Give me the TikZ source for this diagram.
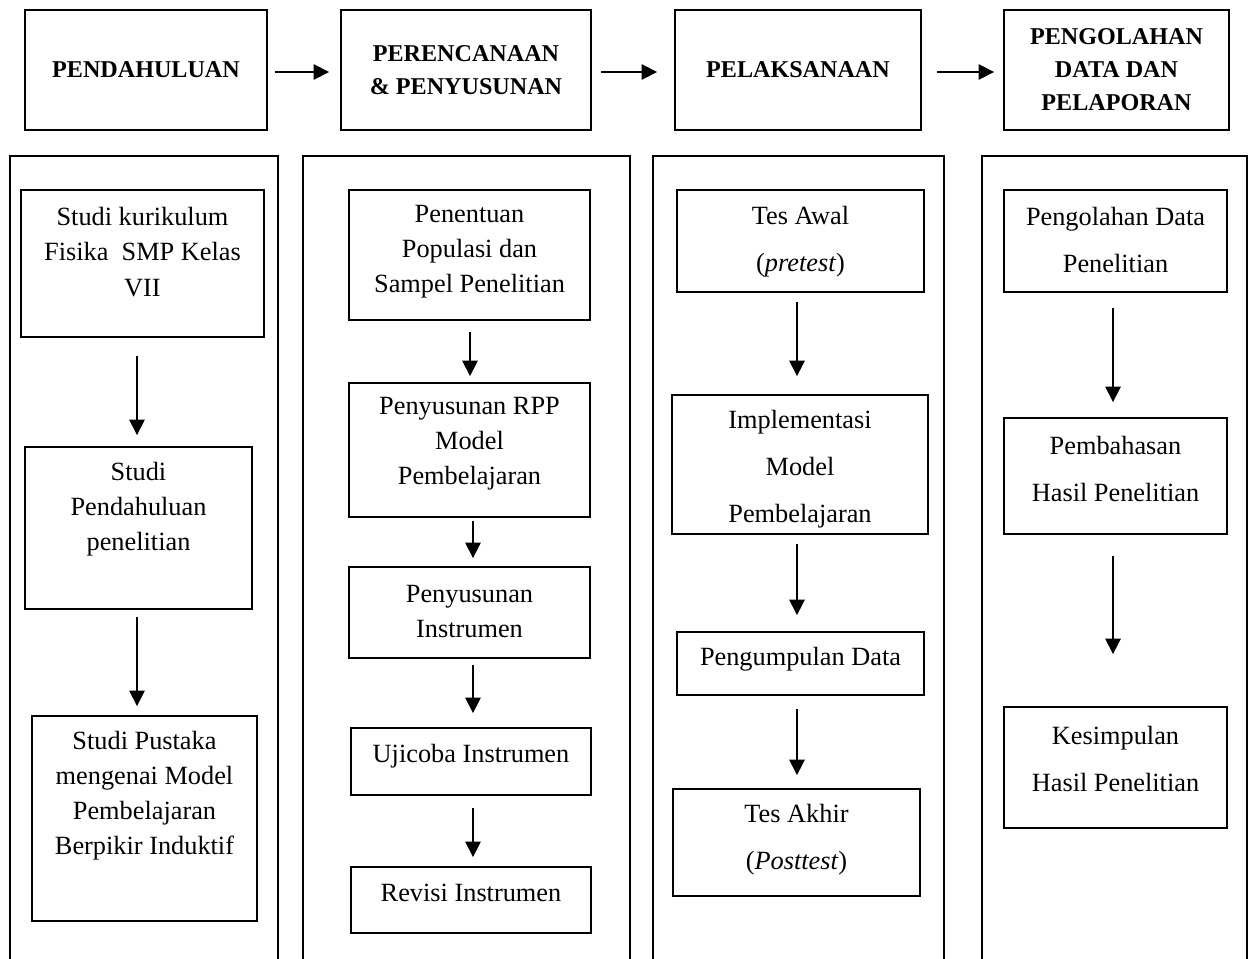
\documentclass[tikz,border=0pt]{standalone}
\usepackage{fontspec}
\setmainfont{Liberation Serif}
\usetikzlibrary{positioning,arrows.meta,fit,calc}

\tikzset{
  box/.style={draw, line width=0.85pt, inner sep=0pt},
  head/.style={font=\bfseries\fontsize{11}{15}\selectfont, align=center, inner sep=0pt},
  txt/.style={font=\fontsize{12}{16}\selectfont, align=center, inner sep=0pt},
  wtxt/.style={font=\fontsize{12}{21.5}\selectfont, align=center, inner sep=0pt},
  arr/.style={-{Triangle[length=7pt,width=7pt]}, line width=0.7pt},
  col/.style={line width=0.85pt},
}

\begin{document}
\begin{tikzpicture}[x=0.456pt,y=-0.456pt]
                \useasboundingbox (0,0) rectangle (1255,958);

                % tahap utama
                \node[box, fit={(25,10) (267,130)}]    (P1) {};
                \node[box, fit={(341,10) (591,130)}]   (P2) {};
                \node[box, fit={(675,10) (921,130)}]   (P3) {};
                \node[box, fit={(1004,10) (1229,130)}] (P4) {};

                \node[head] (tP1) at (P1) {PENDAHULUAN};
                \node[head] (tP2) at (P2) {PERENCANAAN\\\& PENYUSUNAN};
                \node[head] (tP3) at (P3) {PELAKSANAAN};
                \node[head] (tP4) at (P4) {PENGOLAHAN\\DATA DAN\\PELAPORAN};

                \draw[arr] ($(P1.east)+(7,2)$)  -- ($(P2.west)+(-11,2)$);
                \draw[arr] ($(P2.east)+(9,2)$)  -- ($(P3.west)+(-17,2)$);
                \draw[arr] ($(P3.east)+(15,2)$) -- ($(P4.west)+(-9,2)$);

                % kolom
                \draw[col] (10,965)  |- (278,156)  -- (278,965);
                \draw[col] (303,965) |- (630,156)  -- (630,965);
                \draw[col] (653,965) |- (944,156)  -- (944,965);
                \draw[col] (982,965) |- (1247,156) -- (1247,965);

                % pendahuluan
                \node[box, fit={(21,190) (264,337)}] (A1) {};
                \node[box, fit={(25,447) (252,609)}] (A2) {};
                \node[box, fit={(32,716) (257,921)}] (A3) {};

                \node[txt] (tA1) at (142.5,252) {Studi kurikulum\\Fisika\ \ SMP Kelas\\VII};
                \node[txt] (tA2) at (138.5,509.5) {Studi\\Pendahuluan\\penelitian};
                \node[txt] (tA3) at (144.5,795.5) {Studi Pustaka\\mengenai Model\\Pembelajaran\\Berpikir Induktif};

                \draw[arr] ($(A1.south)+(-5.5,18)$) -- ($(A2.north)+(-1.5,-11)$);
                \draw[arr] ($(A2.south)+(-1.5,7)$)  -- ($(A3.north)+(-7.5,-9)$);

                % perencanaan & penyusunan
                \node[box, fit={(349,190) (590,320)}] (B1) {};
                \node[box, fit={(349,383) (590,517)}] (B2) {};
                \node[box, fit={(349,567) (590,658)}] (B3) {};
                \node[box, fit={(351,728) (591,795)}] (B4) {};
                \node[box, fit={(351,867) (591,933)}] (B5) {};

                \node[txt] (tB1) at (469.5,252) {Penentuan\\Populasi dan\\Sampel Penelitian};
                \node[txt] (tB2) at (469.5,444) {Penyusunan RPP\\Model\\Pembelajaran};
                \node[txt] (tB3) at (469.5,611.5) {Penyusunan\\Instrumen};
                \node[txt] (tB4) at (471,756) {Ujicoba Instrumen};
                \node[txt] (tB5) at (471,893) {Revisi Instrumen};

                \draw[arr] ($(B1.south)+(0.5,11)$) -- ($(B2.north)+(0.5,-6)$);
                \draw[arr] ($(B2.south)+(3.5,3)$)  -- ($(B3.north)+(3.5,-8)$);
                \draw[arr] ($(B3.south)+(3.5,6)$)  -- ($(B4.north)+(2,-14)$);
                \draw[arr] ($(B4.south)+(2,12)$)   -- ($(B5.north)+(2,-9)$);

                % pelaksanaan
                \node[box, fit={(677,190) (924,292)}] (C1) {};
                \node[box, fit={(672,395) (928,534)}] (C2) {};
                \node[box, fit={(677,632) (924,695)}] (C3) {};
                \node[box, fit={(673,789) (920,896)}] (C4) {};

                \node[wtxt] (tC1) at (800.5,242) {Tes Awal\\(\textit{pretest})};
                \node[wtxt] (tC2) at (800,469) {Implementasi\\Model\\Pembelajaran};
                \node[txt]  (tC3) at (800.5,659) {Pengumpulan Data};
                \node[wtxt] (tC4) at (796.5,840) {Tes Akhir\\(\textit{Posttest})};

                \draw[arr] ($(C1.south)+(-3.5,9)$)  -- ($(C2.north)+(-3,-18)$);
                \draw[arr] ($(C2.south)+(-3,9)$)    -- ($(C3.north)+(-3.5,-16)$);
                \draw[arr] ($(C3.south)+(-3.5,13)$) -- ($(C4.north)+(0.5,-13)$);

                % pengolahan data dan pelaporan
                \node[box, fit={(1004,190) (1227,292)}] (D1) {};
                \node[box, fit={(1004,418) (1227,534)}] (D2) {};
                \node[box, fit={(1004,707) (1227,828)}] (D3) {};

                \node[wtxt] (tD1) at (1115.5,240) {Pengolahan Data\\Penelitian};
                \node[wtxt] (tD2) at (1115.5,469) {Pembahasan\\Hasil Penelitian};
                \node[wtxt] (tD3) at (1115.5,759) {Kesimpulan\\Hasil Penelitian};

                \draw[arr] ($(D1.south)+(-2.5,15)$) -- ($(D2.north)+(-2.5,-15)$);
                \draw[arr] ($(D2.south)+(-2.5,21)$) -- ($(D3.north)+(-2.5,-52)$);
\end{tikzpicture}
\end{document}
